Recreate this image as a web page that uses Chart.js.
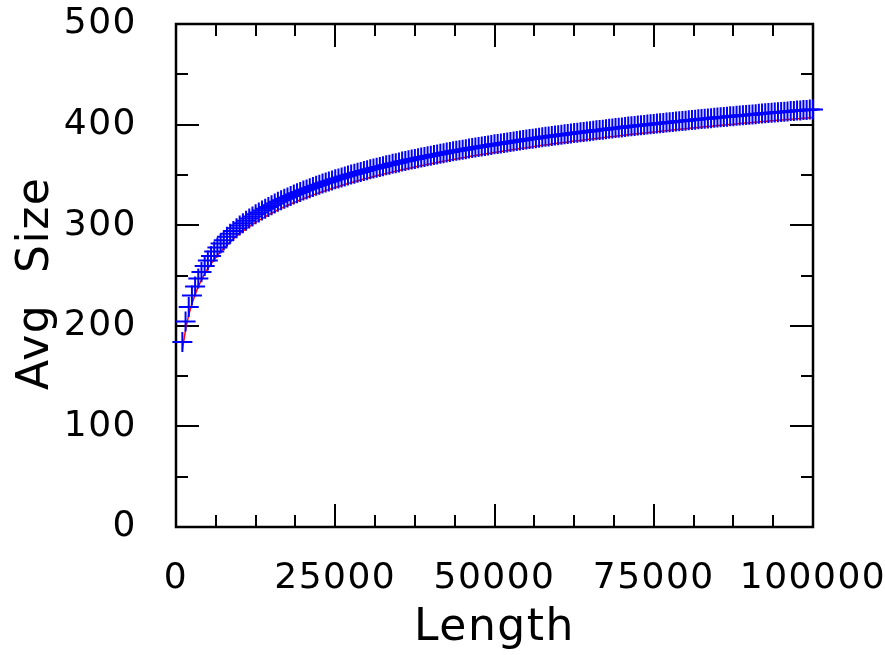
<!DOCTYPE html>
<html><head><meta charset="utf-8">
<script src="https://cdn.jsdelivr.net/npm/chart.js@4/dist/chart.umd.min.js"></script>
<style>html,body{margin:0;padding:0;background:#fff}#wrap{width:885px;height:655px}</style>
</head><body><div id="wrap"><canvas id="c" width="885" height="655"></canvas></div>
<script>
const lengths = [1000,1500,2000,2500,3000,3500,4000,4500,5000,5500,6000,6500,7000,7500,8000,8500,9000,9500,10000,
10500,11000,11500,12000,12500,13000,13500,14000,14500,15000,
15500,16000,16500,17000,17500,18000,18500,19000,19500,20000,
20500,21000,21500,22000,22500,23000,23500,24000,24500,25000,
25500,26000,26500,27000,27500,28000,28500,29000,29500,30000,
30500,31000,31500,32000,32500,33000,33500,34000,34500,35000,
35500,36000,36500,37000,37500,38000,38500,39000,39500,40000,
40500,41000,41500,42000,42500,43000,43500,44000,44500,45000,
45500,46000,46500,47000,47500,48000,48500,49000,49500,50000,
50500,51000,51500,52000,52500,53000,53500,54000,54500,55000,
55500,56000,56500,57000,57500,58000,58500,59000,59500,60000,
60500,61000,61500,62000,62500,63000,63500,64000,64500,65000,
65500,66000,66500,67000,67500,68000,68500,69000,69500,70000,
70500,71000,71500,72000,72500,73000,73500,74000,74500,75000,
75500,76000,76500,77000,77500,78000,78500,79000,79500,80000,
80500,81000,81500,82000,82500,83000,83500,84000,84500,85000,
85500,86000,86500,87000,87500,88000,88500,89000,89500,90000,
90500,91000,91500,92000,92500,93000,93500,94000,94500,95000,
95500,96000,96500,97000,97500,98000,98500,99000,99500,100000];

const measuredSize = [184.0,204.3,218.8,230.0,239.1,246.9,253.6,259.5,264.8,269.5,273.9,277.9,281.7,285.1,288.4,291.4,294.3,297.0,299.6,
302.0,304.3,306.6,308.7,310.8,312.7,314.6,316.4,318.2,319.9,
321.6,323.2,324.7,326.2,327.6,329.1,330.4,331.8,333.1,334.4,
335.6,336.8,338.0,339.1,340.3,341.4,342.4,343.5,344.5,345.6,
346.5,347.5,348.5,349.4,350.3,351.2,352.1,353.0,353.9,354.7,
355.5,356.4,357.2,357.9,358.7,359.5,360.2,361.0,361.7,362.4,
363.2,363.9,364.6,365.2,365.9,366.6,367.2,367.9,368.5,369.1,
369.8,370.4,371.0,371.6,372.2,372.8,373.4,373.9,374.5,375.1,
375.6,376.2,376.7,377.2,377.8,378.3,378.8,379.3,379.8,380.4,
380.8,381.3,381.8,382.3,382.8,383.3,383.7,384.2,384.7,385.1,
385.6,386.0,386.5,386.9,387.4,387.8,388.2,388.7,389.1,389.5,
389.9,390.3,390.7,391.1,391.6,392.0,392.3,392.7,393.1,393.5,
393.9,394.3,394.7,395.0,395.4,395.8,396.2,396.5,396.9,397.2,
397.6,398.0,398.3,398.7,399.0,399.3,399.7,400.0,400.4,400.7,
401.0,401.4,401.7,402.0,402.4,402.7,403.0,403.3,403.6,403.9,
404.3,404.6,404.9,405.2,405.5,405.8,406.1,406.4,406.7,407.0,
407.3,407.6,407.9,408.2,408.4,408.7,409.0,409.3,409.6,409.9,
410.1,410.4,410.7,411.0,411.2,411.5,411.8,412.0,412.3,412.6,
412.8,413.1,413.4,413.6,413.9,414.1,414.4,414.6,414.9,415.1];

const curveSize = [176.0,196.3,210.8,222.0,231.1,238.9,245.6,251.5,256.8,261.5,265.9,269.9,273.7,277.1,280.4,283.4,286.3,289.0,291.6,
294.0,296.3,298.6,300.7,302.8,304.7,306.6,308.4,310.2,311.9,
313.6,315.2,316.7,318.2,319.6,321.1,322.4,323.8,325.1,326.4,
327.6,328.8,330.0,331.1,332.3,333.4,334.4,335.5,336.5,337.6,
338.5,339.5,340.5,341.4,342.3,343.2,344.1,345.0,345.9,346.7,
347.5,348.4,349.2,349.9,350.7,351.5,352.2,353.0,353.7,354.4,
355.2,355.9,356.6,357.2,357.9,358.6,359.2,359.9,360.5,361.1,
361.8,362.4,363.0,363.6,364.2,364.8,365.4,365.9,366.5,367.1,
367.6,368.2,368.7,369.2,369.8,370.3,370.8,371.3,371.8,372.4,
372.8,373.3,373.8,374.3,374.8,375.3,375.7,376.2,376.7,377.1,
377.6,378.0,378.5,378.9,379.4,379.8,380.2,380.7,381.1,381.5,
381.9,382.3,382.7,383.1,383.6,384.0,384.3,384.7,385.1,385.5,
385.9,386.3,386.7,387.0,387.4,387.8,388.2,388.5,388.9,389.2,
389.6,390.0,390.3,390.7,391.0,391.3,391.7,392.0,392.4,392.7,
393.0,393.4,393.7,394.0,394.4,394.7,395.0,395.3,395.6,395.9,
396.3,396.6,396.9,397.2,397.5,397.8,398.1,398.4,398.7,399.0,
399.3,399.6,399.9,400.2,400.4,400.7,401.0,401.3,401.6,401.9,
402.1,402.4,402.7,403.0,403.2,403.5,403.8,404.0,404.3,404.6,
404.8,405.1,405.4,405.6,405.9,406.1,406.4,406.6,406.9,407.1];

const xTickValues = [0, 25000, 50000, 75000, 100000];
const yTickValues = [0, 100, 200, 300, 400, 500];
const xMinorStep = 6250;
const yMinorStep = 50;

const FONT = "'DejaVu Sans ExtraLight', 'DejaVu Sans', sans-serif";

const spacing = {
  id: 'spacing',
  beforeDraw(chart) { chart.ctx.letterSpacing = '1.5px'; },
  afterDraw(chart) { chart.ctx.letterSpacing = '0px'; }
};

const frameTicks = {
  id: 'frameTicks',
  beforeDatasetsDraw(chart) {
    const {ctx, chartArea: a, scales: {x, y}} = chart;
    ctx.save();
    ctx.strokeStyle = '#000';
    ctx.lineCap = 'butt';
    ctx.lineWidth = 2;
    for (let v = 0; v <= 100000; v += xMinorStep) {
      const px = Math.round(x.getPixelForValue(v));
      const major = v % 25000 === 0;
      const len = major ? 23 : 12;
      ctx.beginPath();
      ctx.moveTo(px, a.bottom); ctx.lineTo(px, a.bottom - len);
      ctx.moveTo(px, a.top); ctx.lineTo(px, a.top + len);
      ctx.stroke();
    }
    for (let v = 0; v <= 500; v += yMinorStep) {
      const py = Math.round(y.getPixelForValue(v));
      const major = v % 100 === 0;
      const len = major ? 23 : 12;
      ctx.beginPath();
      ctx.moveTo(a.left, py); ctx.lineTo(a.left + len, py);
      ctx.moveTo(a.right, py); ctx.lineTo(a.right - len, py);
      ctx.stroke();
    }
    ctx.lineWidth = 2.5;
    ctx.strokeRect(a.left, a.top, a.right - a.left, a.bottom - a.top);
    ctx.restore();
  }
};

new Chart(document.getElementById('c'), {
  type: 'scatter',
  data: {
    datasets: [
      {
        label: 'measured',
        data: lengths.map((v, i) => ({x: v, y: measuredSize[i]})),
        showLine: false,
        pointStyle: 'cross',
        pointRadius: 10,
        pointBorderWidth: 2,
        borderColor: '#0000ff',
        backgroundColor: '#0000ff',
        clip: false,
        order: 0
      },
      {
        label: 'curve',
        data: lengths.map((v, i) => ({x: v, y: curveSize[i]})),
        showLine: true,
        pointRadius: 0,
        borderWidth: 1.5,
        borderColor: '#ff0000',
        backgroundColor: '#ff0000',
        order: 1
      }
    ]
  },
  options: {
    responsive: false,
    animation: false,
    devicePixelRatio: 1,
    layout: {padding: {top: 24, right: 72, left: 0, bottom: 0}},
    plugins: {legend: {display: false}, tooltip: {enabled: false}},
    scales: {
      x: {
        type: 'linear', min: 0, max: 100000,
        afterBuildTicks: s => { s.ticks = xTickValues.map(v => ({value: v})); },
        afterFit: s => { s.height = 128; s.paddingLeft = 0; s.paddingRight = 0; },
        grid: {display: false, drawTicks: false},
        border: {display: false},
        ticks: {padding: 30, color: '#000', maxRotation: 0, autoSkip: false,
                callback: v => String(v),
                font: {family: FONT, size: 36}},
        title: {display: true, text: 'Length', color: '#000', padding: {top: 0, bottom: 0},
                font: {family: FONT, size: 44}}
      },
      y: {
        type: 'linear', min: 0, max: 500,
        afterBuildTicks: s => { s.ticks = yTickValues.map(v => ({value: v})); },
        afterFit: s => { s.width = 176; s.paddingTop = 0; s.paddingBottom = 0; },
        grid: {display: false, drawTicks: false},
        border: {display: false},
        ticks: {padding: 39, color: '#000', autoSkip: false,
                callback: v => String(v),
                font: {family: FONT, size: 36}},
        title: {display: true, text: 'Avg  Size ', color: '#000', padding: {top: 10, bottom: 0},
                font: {family: FONT, size: 44}}
      }
    }
  },
  plugins: [frameTicks, spacing]
});
</script></body></html>
